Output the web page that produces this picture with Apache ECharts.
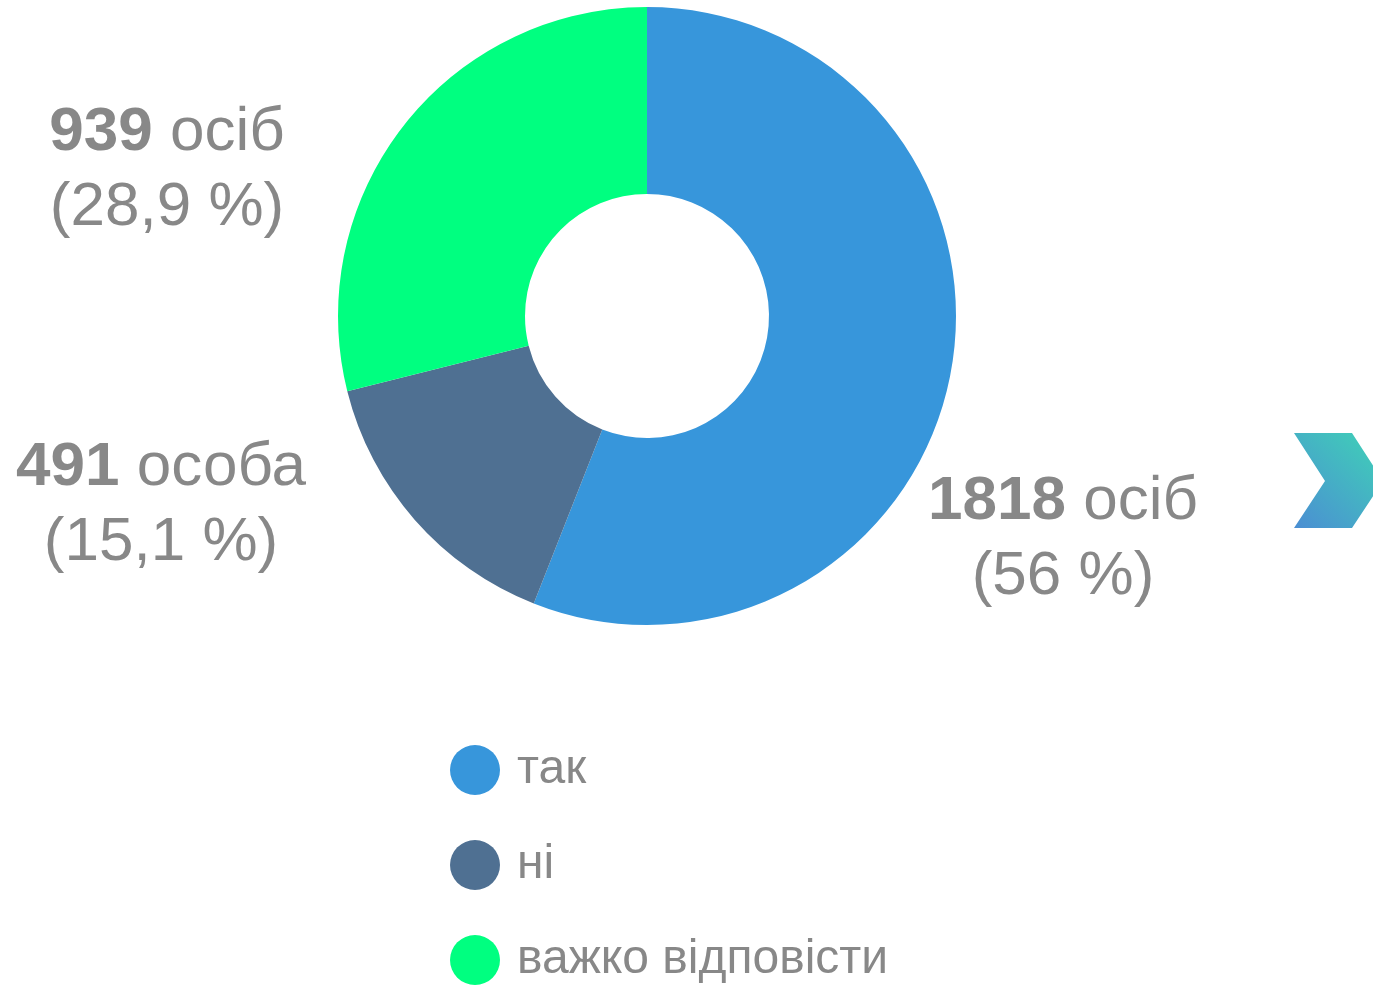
<!DOCTYPE html>
<html>
<head>
<meta charset="utf-8">
<script src="https://cdn.jsdelivr.net/npm/echarts@6/dist/echarts.min.js"></script>
<style>
  html, body { margin: 0; padding: 0; background: #fff; }
  #chart { width: 1373px; height: 986px; }
</style>
</head>
<body>
<div id="chart"></div>
<script>
const categories = ['так', 'ні', 'важко відповісти']
const values = [1818, 491, 939]
const units = ['осіб', 'особа', 'осіб']
const colors = ['#3796db', '#4f7092', '#00ff80']

// where each label block sits (center x, center y)
const labelPos = [[1063, 539], [161, 505], [167, 170]]

const total = values.reduce((a, b) => a + b, 0)
const pct = v => (v / total * 100).toFixed(1).replace(/\.0$/, '').replace('.', ',')

const chart = echarts.init(document.getElementById('chart'))
chart.setOption({
  animation: false,
  color: colors,
  legend: {
    orient: 'vertical',
    left: 450, top: 745, height: 300,
    padding: 0,
    icon: 'circle',
    itemWidth: 50, itemHeight: 50, itemGap: 45,
    textStyle: { color: '#888', fontSize: 48, fontFamily: 'Liberation Sans', padding: [0, 0, 0, 12] },
    data: categories
  },
  graphic: [{
    type: 'polygon',
    shape: { points: [[1294, 433], [1352, 433], [1383, 481], [1352, 528], [1294, 528], [1325, 481]] },
    style: {
      fill: new echarts.graphic.LinearGradient(1, 0, 0, 1, [
        { offset: 0, color: '#3fd3b6' },
        { offset: 1, color: '#4b8ed3' }
      ])
    }
  }],
  series: [{
    type: 'pie',
    center: [647, 316],
    radius: [122, 309],
    startAngle: 90,
    clockwise: true,
    silent: true,
    data: categories.map((c, i) => ({ name: c, value: values[i] })),
    labelLine: { show: false },
    label: {
      show: true,
      position: 'outside',
      align: 'center',
      color: '#888',
      fontFamily: 'Liberation Sans',
      lineHeight: 75,
      formatter: p => `{b|${p.value}}{n|\u00a0${units[p.dataIndex]}}\n{n|(${pct(p.value)} %)}`,
      rich: {
        b: { fontSize: 62, fontWeight: 'bold', color: '#888', fontFamily: 'Liberation Sans', lineHeight: 75 },
        n: { fontSize: 62, color: '#888', fontFamily: 'Liberation Sans', lineHeight: 75 }
      }
    },
    labelLayout: p => ({
      x: labelPos[p.dataIndex][0],
      y: labelPos[p.dataIndex][1],
      align: 'center',
      verticalAlign: 'middle'
    })
  }]
})
</script>
</body>
</html>
